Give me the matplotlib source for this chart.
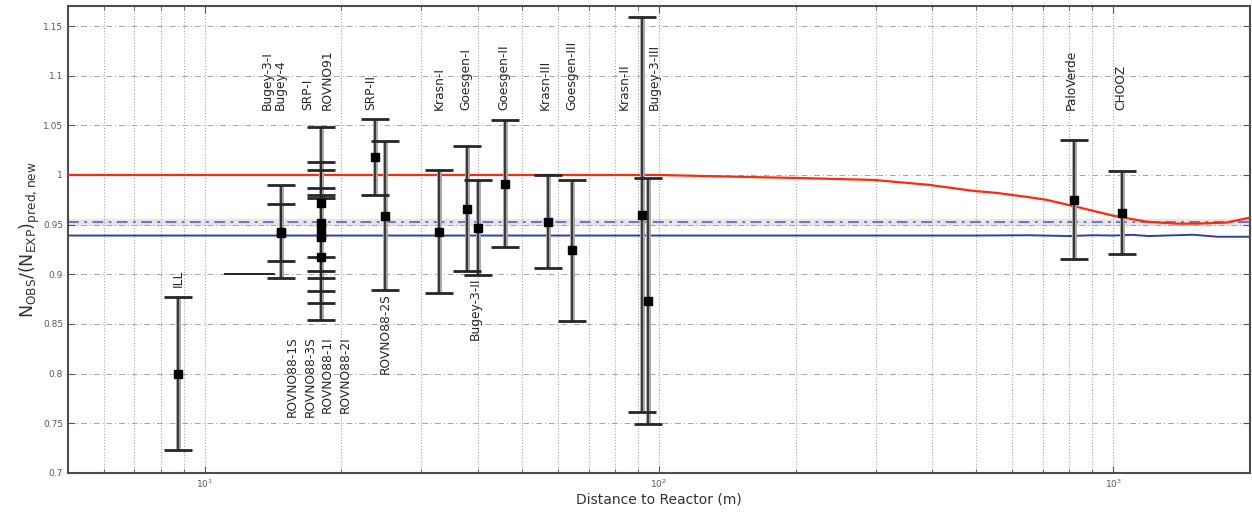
import matplotlib
matplotlib.use("Agg")
import matplotlib.pyplot as plt
from matplotlib.ticker import FixedLocator, NullFormatter

# experiments: name, distance (m), observed/predicted ratio, 1-sigma error
names = ["ILL", "Bugey-4", "Bugey-3-I", "SRP-I", "ROVNO91", "ROVNO88-1I",
         "ROVNO88-2I", "ROVNO88-1S", "ROVNO88-3S", "SRP-II", "ROVNO88-2S",
         "Krasn-I", "Goesgen-I", "Bugey-3-II", "Goesgen-II", "Krasn-III",
         "Goesgen-III", "Krasn-II", "Bugey-3-III", "PaloVerde", "CHOOZ"]
distance = [8.73, 14.7, 14.7, 18, 18, 18, 18, 18, 18, 23.7, 25.0,
            32.8, 37.8, 40.0, 45.8, 57.0, 64.4, 92.0, 94.5, 820, 1048]
ratio = [0.800, 0.942, 0.943, 0.952, 0.940, 0.917, 0.948, 0.972, 0.938,
         1.018, 0.959, 0.943, 0.966, 0.947, 0.991, 0.953, 0.924, 0.960,
         0.873, 0.975, 0.962]
error = [0.077, 0.029, 0.047, 0.035, 0.037, 0.063, 0.065, 0.076, 0.067,
         0.038, 0.075, 0.062, 0.063, 0.048, 0.064, 0.047, 0.071, 0.199,
         0.124, 0.060, 0.042]

# red curve (oscillation with theta13)
red_x = [5, 100, 156, 201, 297, 394, 492, 553, 644, 713, 830, 1000, 1183, 1374, 1521, 1771, 2000]
red_y = [1.0, 1.0, 0.998, 0.997, 0.995, 0.990, 0.984, 0.982, 0.978, 0.975, 0.968,
         0.959, 0.953, 0.951, 0.951, 0.952, 0.957]

# blue fit line (solid) and dashed level
blue_x = [5, 500, 650, 800, 900, 1000, 1100, 1200, 1300, 1500, 1700, 2000]
blue_y = [0.939, 0.939, 0.9393, 0.9385, 0.9393, 0.939, 0.9397, 0.9385, 0.939,
          0.9398, 0.9378, 0.9378]
dash_level = 0.953

# stray segment at 0.9
seg_x = [11.1, 14.2]
seg_y = [0.9, 0.9]

fig = plt.figure(figsize=(12.52, 5.14), dpi=100)
ax = fig.add_axes([0.0543, 0.080, 0.944, 0.908])
ax.set_xscale("log")
ax.set_xlim(5, 2000)
ax.set_ylim(0.7, 1.17)

# grid
ax.set_yticks([0.7 + 0.05 * i for i in range(10)])
ax.set_yticklabels(["%g" % round(0.7 + 0.05 * i, 2) for i in range(10)])
ax.xaxis.set_major_locator(FixedLocator([10, 100, 1000]))
ax.set_xticklabels([r"$10^1$", r"$10^2$", r"$10^3$"])
minors = [m * 10 ** e for e in range(0, 4) for m in range(2, 10)]
ax.xaxis.set_minor_locator(FixedLocator([v for v in minors if 5 <= v <= 2000]))
ax.xaxis.set_minor_formatter(NullFormatter())
ax.grid(True, axis="y", which="major", color="0.65", ls=(0, (6, 3, 1, 3)), lw=0.7)
ax.grid(True, axis="x", which="both", color="0.65", ls=":", lw=0.8)

ax.tick_params(which="both", direction="in", top=True, right=True,
               labelsize=6.5, labelcolor="0.35", color="0.35")
ax.tick_params(which="major", length=5)
ax.tick_params(which="minor", length=3)
for s in ax.spines.values():
    s.set_color("0.3")
    s.set_linewidth(1.5)

# lines
ax.axhspan(dash_level - 0.003, dash_level + 0.003, color="0.9", zorder=1)
ax.axhline(dash_level, color="#6f62d6", ls=(0, (6, 3, 1.5, 3)), lw=1.3, zorder=2)
ax.plot(blue_x, blue_y, color="#2c3fb0", lw=1.4, zorder=2)
ax.plot(red_x, red_y, color="#ff2a0a", lw=1.6, zorder=3)
ax.plot(seg_x, seg_y, color="black", lw=1.2, zorder=3)

# error bars: gray halo then dark core
ax.errorbar(distance, ratio, yerr=error, fmt="none", ecolor="0.65",
            elinewidth=3.5, capsize=0, zorder=4)
ax.errorbar(distance, ratio, yerr=error, fmt="s", color="black", ms=5.5,
            ecolor="0.15", elinewidth=1.2, capsize=10, capthick=2, zorder=5)

# labels: (name, x, y, va)
top_y = 1.065
labels = [
    ("ILL", 8.73, 0.887, "bottom"),
    ("Bugey-3-I", 13.76, top_y, "bottom"),
    ("Bugey-4", 14.7, top_y, "bottom"),
    ("SRP-I", 16.9, top_y, "bottom"),
    ("ROVNO91", 18.6, top_y, "bottom"),
    ("SRP-II", 23.2, top_y, "bottom"),
    ("Krasn-I", 32.8, top_y, "bottom"),
    ("Goesgen-I", 37.5, top_y, "bottom"),
    ("Goesgen-II", 45.6, top_y, "bottom"),
    ("Krasn-III", 56.1, top_y, "bottom"),
    ("Goesgen-III", 64.3, top_y, "bottom"),
    ("Krasn-II", 83.8, top_y, "bottom"),
    ("Bugey-3-III", 97.5, top_y, "bottom"),
    ("PaloVerde", 808, top_y, "bottom"),
    ("CHOOZ", 1041, top_y, "bottom"),
    ("ROVNO88-1S", 15.6, 0.838, "top"),
    ("ROVNO88-3S", 17.1, 0.838, "top"),
    ("ROVNO88-1I", 18.6, 0.838, "top"),
    ("ROVNO88-2I", 20.4, 0.838, "top"),
    ("ROVNO88-2S", 25.0, 0.881, "top"),
    ("Bugey-3-II", 39.4, 0.897, "top"),
]
for txt, x, y, va in labels:
    ax.text(x, y, txt, rotation=90, ha="center", va=va, fontsize=8.8,
            color="0.15", zorder=6)

ax.set_xlabel("Distance to Reactor (m)", fontsize=10, color="0.2", labelpad=2)
ax.set_ylabel(r"$\mathregular{N_{OBS}/(N_{EXP})_{pred,new}}$", fontsize=12.5,
              color="0.2", labelpad=1)

fig.savefig("out.png", dpi=100)
